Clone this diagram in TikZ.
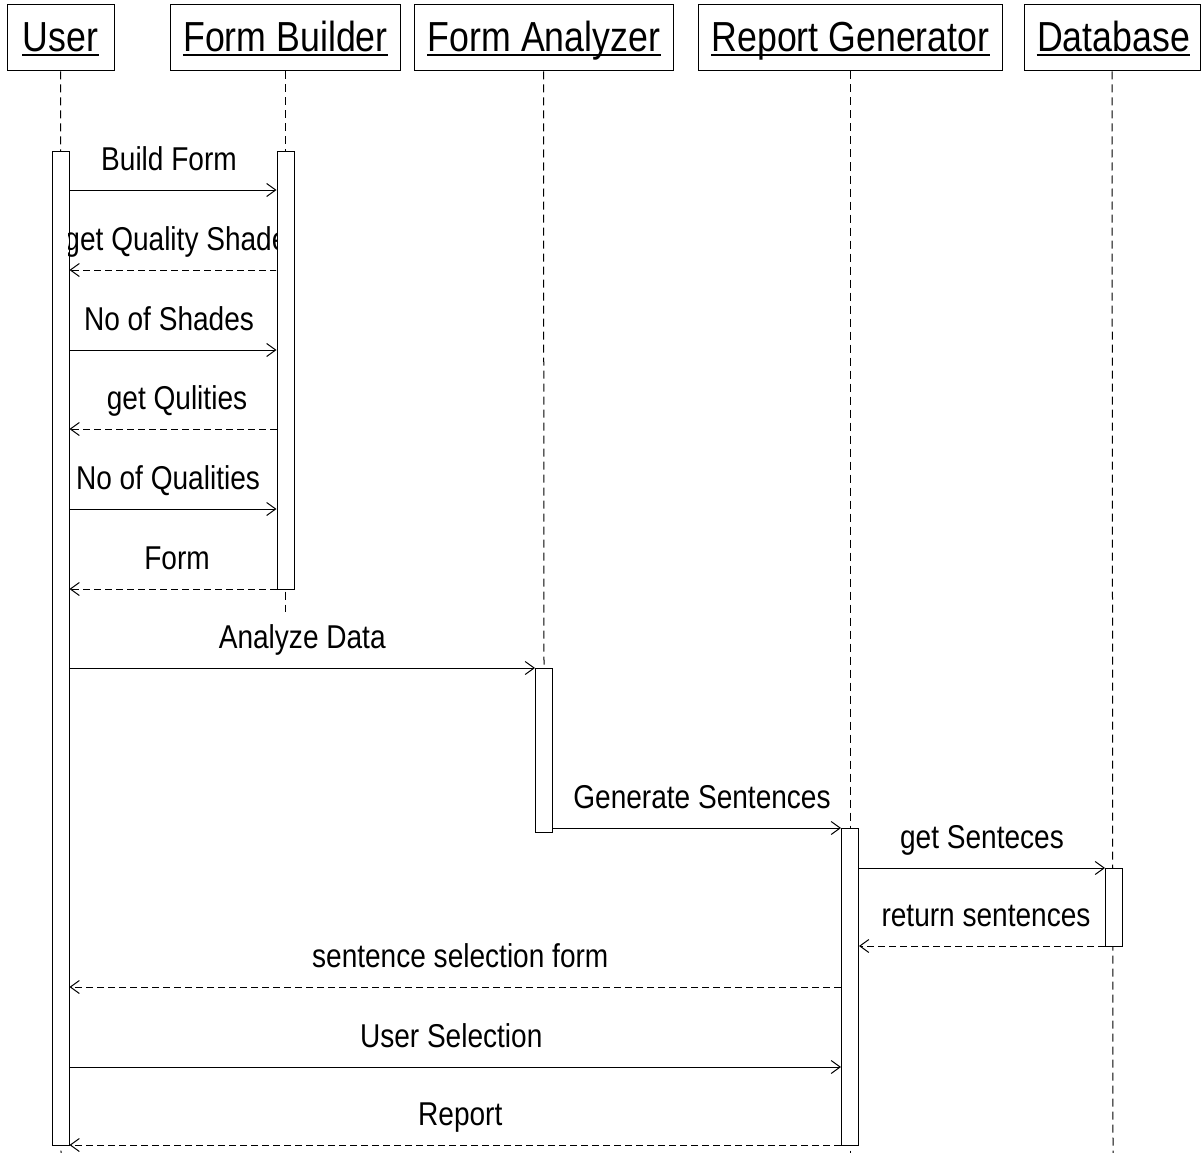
\documentclass[tikz,border=0pt]{standalone}
\usepackage{fontspec}
\setmainfont[FakeStretch=0.85]{Liberation Sans}
\usetikzlibrary{arrows.meta}

\begin{document}
\begin{tikzpicture}[x=1pt,y=-1pt,line width=1pt,
  head/.style={draw,minimum height=66pt,inner sep=0pt},
  htext/.style={font=\fontsize{42}{42}\selectfont,inner sep=0pt,anchor=base},
  lifeline/.style={line width=1pt,dash pattern=on 8pt off 5pt},
  act/.style={draw,fill=white,minimum width=17pt,inner sep=0pt,anchor=north},
  msg/.style={-{Straight Barb[length=9pt,width=13pt]}},
  reply/.style={msg,dash pattern=on 7pt off 4pt},
  lbl/.style={font=\fontsize{33}{33}\selectfont,anchor=base,inner sep=0pt,midway,yshift=20pt}]

\useasboundingbox (0,0) rectangle (1202,1153);

% participant heads
\node[head,minimum width=107pt] (hU)  at (60.5,38)  {};
\node[head,minimum width=230pt] (hFB) at (285,38)   {};
\node[head,minimum width=259pt] (hFA) at (543.5,38) {};
\node[head,minimum width=304pt] (hRG) at (850,38)   {};
\node[head,minimum width=176pt] (hDB) at (1112,38)  {};

\node[htext] (tU)  at (60.5,52)  {User};
\node[htext] (tFB) at (285.5,52) {Form Builder};
\node[htext] (tFA) at (544,52)   {Form Analyzer};
\node[htext] (tRG) at (850.5,52) {Report Generator};
\node[htext] (tDB) at (1113.5,52){Database};
\foreach \t in {tU,tFB,tFA,tRG,tDB}
  \draw[line width=2pt] ([yshift=-3pt]\t.base west) -- ([yshift=-3pt]\t.base east);

% lifeline end points
\coordinate (eU)  at (61,1153);
\coordinate (eFB) at (285,612);
\coordinate (eFA) at (544,668);
\coordinate (eRG) at (850,1153);
\coordinate (eDB) at (1113,1153);

\draw[lifeline] (hU.south)  -- (eU);
\draw[lifeline] (hFB.south) -- (eFB);
\draw[lifeline] (hFA.south) -- (eFA);
\draw[lifeline] (hRG.south) -- (eRG);
\draw[lifeline] (hDB.south) -- (eDB);

% activation bars
\node[act,minimum height=994pt] (aU)  at (60.5,151) {};
\node[act,minimum height=438pt] (aFB) at (285.5,151) {};
\node[act,minimum height=164pt] (aFA) at (544,668) {};
\node[act,minimum height=317pt] (aRG) at (850,828) {};
\node[act,minimum height=78pt]  (aDB) at (1114,868) {};

% messages
\draw[msg] (aU.east |- 0,190) -- (aFB.west |- 0,190) node[lbl,xshift=-4pt] {Build Form};
\begin{scope}
  \clip (68,200) rectangle (276,290);
  \draw[reply] (aFB.west |- 0,270) -- (aU.east |- 0,270) node[lbl,xshift=10pt] {get Quality Shades};
\end{scope}
\draw[msg] (aU.east |- 0,350) -- (aFB.west |- 0,350) node[lbl,xshift=-4pt] {No of Shades};
\draw[reply] (aFB.west |- 0,429) -- (aU.east |- 0,429) node[lbl,xshift=4pt] {get Qulities};
\draw[msg] (aU.east |- 0,509) -- (aFB.west |- 0,509) node[lbl,xshift=-5pt] {No of Qualities};
\draw[reply] (aFB.west |- 0,589) -- (aU.east |- 0,589) node[lbl,xshift=4pt] {Form};
\draw[msg] (aU.east |- 0,668) -- (aFA.west |- 0,668) node[lbl] {Analyze Data};
\draw[msg] (aFA.east |- 0,828) -- (aRG.west |- 0,828) node[lbl,xshift=5pt] {Generate Sentences};
\draw[msg] (aRG.east |- 0,868) -- (aDB.west |- 0,868) node[lbl] {get Senteces};
\draw[reply] (aDB.west |- 0,946) -- (aRG.east |- 0,946) node[lbl,xshift=4pt] {return sentences};
\draw[reply] (aRG.west |- 0,987) -- (aU.east |- 0,987) node[lbl,xshift=5pt] {sentence selection form};
\draw[msg] (aU.east |- 0,1067) -- (aRG.west |- 0,1067) node[lbl,xshift=-4pt] {User Selection};
\draw[reply] (aRG.west |- 0,1145) -- (aU.east |- 0,1145) node[lbl,xshift=5pt] {Report};

\end{tikzpicture}
\end{document}
